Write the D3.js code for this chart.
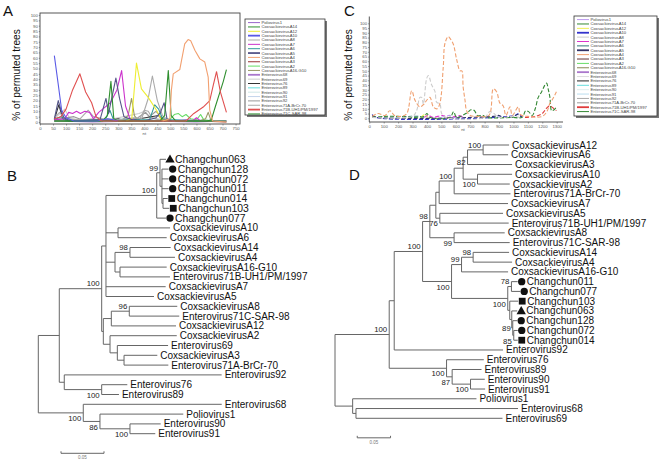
<!DOCTYPE html>
<html><head><meta charset="utf-8">
<script src="https://cdn.jsdelivr.net/npm/d3@7"></script>
<style>
body{margin:0;background:#fff;}
svg{display:block;font-family:"Liberation Sans",Arial,sans-serif;}
</style></head><body>
<svg id="c" width="661" height="462"></svg>
<script>
// ---------- legend (shared by panels A and C) ----------
const seriesNames = ["Poliovirus1","CoxsackievirusA14","CoxsackievirusA12","CoxsackievirusA10","CoxsackievirusA8","CoxsackievirusA7","CoxsackievirusA6","CoxsackievirusA5","CoxsackievirusA4","CoxsackievirusA3","CoxsackievirusA2","CoxsackievirusA16-G10","Enterovirus68","Enterovirus69","Enterovirus76","Enterovirus89","Enterovirus90","Enterovirus91","Enterovirus92","Enterovirus71A-BrCr-70","Enterovirus71B-UH1/PM/1997","Enterovirus71C-SAR-98"];
const colorsA = ["#9966cc","#2f8f2f","#eeee33","#5a5ae6","#aaaaaa","#cc33cc","#339999","#555588","#f2a070","#993333","#66dd66","#999966","#aa77cc","#cccccc","#333333","#66dddd","#cfe6e6","#c4d4ec","#999999","#aaaaaa","#e05050","#2f8f2f"];
const colorsC = ["#bb99ee","#338833","#eeee55","#3333cc","#cccccc","#dd33cc","#337777","#333366","#f2a070","#663333","#66dd66","#888855","#aa77cc","#dddddd","#222222","#66dddd","#ddeeee","#bbddee","#aaaaaa","#999999","#e03c3c","#338833"];
const thickSwatch = ["CoxsackievirusA10","CoxsackievirusA5","Enterovirus68","Enterovirus71B-UH1/PM/1997"];

// ---------- panel A: bootscan (% permuted trees vs position) ----------
const ticksAx = d3.range(0, 751, 50);
const ticksY = d3.range(0, 101, 5);
const scanA_Polio1 = [[55,1],[100,2],[150,1],[250,1],[330,2],[400,1],[500,1],[560,2],[620,1],[715,1]];
const scanA_CVA14 = [[55,1],[240,1],[258,6],[272,38],[283,3],[300,1],[460,1],[478,6],[492,48],[503,6],[520,1],[715,1]];
const scanA_CVA12 = [[330,1],[352,3],[370,55],[389,31],[415,23],[447,11],[465,2],[490,1]];
const scanA_CVA10 = [[55,62],[70,35],[83,11],[100,4],[130,1],[220,1],[260,3],[280,2],[300,1]];
const scanA_CVA8 = [[55,4],[75,9],[95,3],[150,2],[185,11],[205,5],[240,3],[300,2],[360,4],[390,3],[415,22],[431,43],[450,20],[470,6],[495,1]];
const scanA_CVA7 = [[55,2],[95,3],[110,9],[125,8],[140,10],[155,8],[172,10],[190,9],[205,3],[225,9],[245,13],[270,18],[295,30],[313,48],[328,15],[345,3],[370,1],[585,1],[600,4],[615,1]];
const scanA_CVA6 = [[55,2],[80,5],[100,1],[250,2],[268,11],[282,2],[420,2],[440,16],[455,12],[470,3],[500,2],[610,1]];
const scanA_CVA5 = [[55,3],[70,20],[82,10],[92,4],[115,1],[230,2],[253,22],[263,8],[275,22],[291,41],[305,22],[322,5],[355,2],[400,1],[445,4],[462,9],[476,18],[487,3],[505,1]];
const scanA_CVA4 = [[470,1],[498,3],[504,30],[511,45],[536,49],[555,73],[568,77],[578,76],[594,67],[613,59],[632,56],[645,42],[651,11],[662,1],[715,0]];
const scanA_CVA3 = [[55,1],[150,1],[300,1],[450,1],[600,1],[715,0]];
const scanA_CVA2 = [[470,1],[500,3],[515,7],[530,8],[545,5],[560,7],[578,3],[600,2],[616,7],[628,2],[660,1]];
const scanA_CVA16 = [[310,1],[338,6],[351,22],[362,6],[378,1],[610,1],[635,3],[645,9],[655,2]];
const scanA_EV68 = [[55,1],[200,0],[400,1],[600,0],[715,1]];
const scanA_EV69 = [[55,3],[95,12],[115,3],[170,2],[220,4],[260,2],[380,8],[400,10],[420,4],[480,2]];
const scanA_EV76 = [[55,2],[72,16],[88,3],[110,1],[280,2],[300,3],[330,1],[455,6],[470,2],[500,1]];
const scanA_EV89 = [[55,1],[100,2],[250,1],[330,3],[360,1],[520,2],[560,1]];
const scanA_EV90 = [[55,2],[120,3],[180,1],[300,2],[420,3],[520,1]];
const scanA_EV91 = [[55,1],[140,2],[240,1],[350,2],[450,1],[600,2],[715,1]];
const scanA_EV92 = [[55,2],[130,5],[160,2],[330,2],[375,4],[405,9],[420,5],[445,10],[470,3],[520,1]];
const scanA_EV71A = [[55,1],[180,2],[230,1],[380,2],[400,11],[415,10],[430,4],[470,1]];
const scanA_EV71B = [[55,3],[80,5],[100,12],[125,30],[153,45],[175,28],[198,18],[215,5],[235,1],[400,1],[560,1],[590,8],[626,14],[651,20],[665,35],[677,47],[692,28],[715,9]];
const scanA_EV71C = [[55,1],[300,1],[560,1],[640,1],[657,2],[672,14],[690,28],[703,38],[715,49]];

// ---------- panel C ----------
const ticksCx = d3.range(0, 1301, 100);
const scanC_CVA4 = [[20,2],[60,5],[108,3],[143,8],[175,3],[220,2],[260,5],[294,29],[317,19],[351,12],[380,15],[398,19],[421,22],[444,12],[470,10],[490,16],[513,54],[525,79],[548,86],[565,83],[583,78],[606,62],[629,50],[642,50],[651,33],[664,19],[675,8],[700,3],[760,2],[830,3],[860,31],[883,28],[906,16],[929,13],[948,3],[976,12],[992,3],[1034,12],[1048,4],[1100,2],[1200,2],[1235,8],[1251,15],[1275,21],[1298,28]];
const scanC_CVA8 = [[20,1],[300,2],[328,8],[351,22],[363,22],[375,15],[398,42],[410,45],[433,35],[456,28],[467,17],[490,15],[502,5],[530,1],[800,1],[835,7],[865,5],[895,1],[1000,2],[1040,1]];
const scanC_CVA14 = [[20,1],[100,2],[200,2],[300,1],[380,2],[400,5],[420,1],[560,1],[585,7],[605,1],[680,6],[705,9],[730,8],[750,3],[790,3],[810,1],[1000,1]];
const scanC_EV71C = [[1000,1],[1060,1],[1085,8],[1105,7],[1130,3],[1151,10],[1172,22],[1196,28],[1218,35],[1230,37],[1242,30],[1253,22],[1265,8],[1282,9],[1298,12]];
const scanC_EV71B = [[1080,1],[1150,2],[1200,5],[1226,10],[1250,13],[1265,12],[1298,8]];
const scanC_CVA7 = [[380,1],[410,3],[440,1],[510,3],[540,1],[600,2],[625,3],[650,1]];
const scanC_Polio1 = [[500,1],[560,3],[585,1],[620,2],[650,1]];
const scanC_CVA5 = [[20,3],[50,1],[860,2],[900,3],[930,1],[1000,2],[1030,4],[1055,1]];
const scanC_CVA10 = [[20,4],[45,1],[1010,3],[1035,5],[1060,1]];
const scanC_CVA6 = [[20,2],[50,1],[350,2],[380,1]];
const scanC_CVA12 = [[360,1],[385,4],[405,1]];

// ---------- trees (Newick, branch lengths in substitutions/site) ----------
const treeB = "(((((((Changchun063:0.007,(Changchun128:0.0078,Changchun072:0.0078,Changchun011:0.0078,(Changchun014:0.0055,Changchun103:0.0073):0.0012):0.0023)99:0.0038,Changchun077:0.0108)100:0.059,(CoxsackievirusA10:0.0605,CoxsackievirusA6:0.0566):0.014,((CoxsackievirusA14:0.0473,CoxsackievirusA4:0.0523)98:0.0174,(CoxsackievirusA16-G10:0.0543,Enterovirus71B-UH1/PM/1997:0.0581):0.0058):0.0105,CoxsackievirusA7:0.0694,CoxsackievirusA5:0.0558):0.005,(((CoxsackievirusA8:0.0558,Enterovirus71C-SAR-98:0.0581)96:0.0209,CoxsackievirusA12:0.0752):0.0093,(CoxsackievirusA2:0.0776,(Enterovirus69:0.059,(CoxsackievirusA3:0.0387,Enterovirus71A-BrCr-70:0.0515):0.0078):0.0085):0.0078):0.0019)100:0.0493,(Enterovirus92:0.183,(Enterovirus76:0.0298,Enterovirus89:0.0201)100:0.0435):0.0058):0.0244,(Enterovirus68:0.161,(Poliovirus1:0.0969,(Enterovirus90:0.0357,Enterovirus91:0.0294)100:0.0349)86:0.0194)100:0.0523);";
const treeD = "((((((((((((CoxsackievirusA12:0.039,CoxsackievirusA6:0.0375)100:0.0234,CoxsackievirusA3:0.0669)82:0.0066,(CoxsackievirusA10:0.0519,CoxsackievirusA2:0.0484)100:0.0216):0.0135,Enterovirus71A-BrCr-70:0.0846)100:0.0225,CoxsackievirusA7:0.1034):0.005,(CoxsackievirusA5:0.0949,Enterovirus71B-UH1/PM/1997:0.1034)76:0.006):0.009,(CoxsackievirusA8:0.076,Enterovirus71C-SAR-98:0.0835)99:0.0364)98:0.0109,(((CoxsackievirusA14:0.054,CoxsackievirusA4:0.0585)98:0.0174,CoxsackievirusA16-G10:0.0699)99:0.015,((Changchun011:0.0094,Changchun077:0.0132)78:0.0055,(Changchun103:0.0127,(Changchun063:0.0082,(Changchun128:0.0067,(Changchun072:0.006,Changchun014:0.006)85:0.0015)89:0.0015):0.003):0.003)100:0.0844)100:0.0435)100:0.0426,Enterovirus92:0.1634):0.0075,(Enterovirus76:0.0559,(Enterovirus89:0.0441,(Enterovirus90:0.0214,Enterovirus91:0.0219)100:0.0276)87:0.0084)100:0.0861)100:0.0814,(Poliovirus1:0.1859,(Enterovirus68:0.2433,Enterovirus69:0.22):0.005):0.0265);";
const strainMarkers = [["Changchun063","triangle"],["Changchun128","circle"],["Changchun072","circle"],["Changchun011","circle"],["Changchun014","square"],["Changchun103","square"],["Changchun077","circle"]];
const bootBelowB = ["Enterovirus76|Enterovirus89","Enterovirus68|Enterovirus91","Poliovirus1|Enterovirus91","Enterovirus90|Enterovirus91"];
const bootMidB = [];
const bootBelowD = ["CoxsackievirusA12|CoxsackievirusA3","CoxsackievirusA10|CoxsackievirusA2","CoxsackievirusA5|Enterovirus71B-UH1/PM/1997","CoxsackievirusA8|Enterovirus71C-SAR-98","CoxsackievirusA14|Changchun014","Changchun011|Changchun014","Changchun072|Changchun014","Enterovirus76|Enterovirus91","Enterovirus89|Enterovirus91","Enterovirus90|Enterovirus91"];
const bootMidD = ["Changchun128|Changchun014"];
const scaleBarLen = 0.05;

// ================= drawing =================
const svg = d3.select("#c");

function panelLabel(t, x, y){
  svg.append("text").attr("x",x).attr("y",y).attr("font-size",15).attr("fill","#111").text(t);
}
function yTitle(cx, cy){
  svg.append("text").attr("transform",`translate(${cx},${cy}) rotate(-90)`).attr("text-anchor","middle")
    .attr("font-size",10.2).attr("fill","#111").text("% of permuted trees");
}
function legend(x0, y0, w, h, rowStep, colors){
  const g = svg.append("g");
  g.append("rect").attr("x",x0+2).attr("y",y0+2).attr("width",w).attr("height",h).attr("fill","#777");
  g.append("rect").attr("x",x0).attr("y",y0).attr("width",w).attr("height",h).attr("fill","#fff").attr("stroke","#333").attr("stroke-width",0.8);
  seriesNames.forEach((n,i)=>{
    const yy = y0 + 3.6 + i*rowStep;
    g.append("line").attr("x1",x0+3).attr("x2",x0+15).attr("y1",yy).attr("y2",yy)
      .attr("stroke",colors[i]).attr("stroke-width", thickSwatch.includes(n)?1.8:1);
    g.append("text").attr("x",x0+16.5).attr("y",yy).attr("dy","0.35em").attr("font-size",4.2).attr("fill","#444").text(n);
  });
}
function styleAxis(g){
  g.selectAll("text").attr("font-size",4.3).attr("fill","#555");
  g.selectAll("line").attr("stroke","#555").attr("stroke-width",0.6);
  g.select(".domain").remove();
}

// ---- Panel A ----
panelLabel("A", 3, 16);
yTitle(20, 75);
const xA = d3.scaleLinear().domain([0, 767]).range([40, 240]);
const yA = d3.scaleLinear().domain([0, 100]).range([122, 15]);
svg.append("rect").attr("x",40).attr("y",13).attr("width",200).attr("height",111).attr("fill","none").attr("stroke","#444").attr("stroke-width",0.9);
styleAxis(svg.append("g").attr("transform","translate(0,124)").call(d3.axisBottom(xA).tickValues(ticksAx).tickFormat(d3.format("d")).tickSize(1.5).tickPadding(1.5)));
styleAxis(svg.append("g").attr("transform","translate(40,0)").call(d3.axisLeft(yA).tickValues(ticksY).tickFormat(d3.format("d")).tickSize(1.2).tickPadding(1)));
svg.append("text").attr("x",xA(400)).attr("y",135).attr("text-anchor","middle").attr("font-size",4.3).attr("fill","#555").text("nt");
const seriesA = [
  ["Enterovirus68",scanA_EV68],["CoxsackievirusA3",scanA_CVA3],["Enterovirus91",scanA_EV91],["Enterovirus90",scanA_EV90],
  ["Enterovirus89",scanA_EV89],["Poliovirus1",scanA_Polio1],["Enterovirus69",scanA_EV69],["Enterovirus92",scanA_EV92],
  ["Enterovirus71A-BrCr-70",scanA_EV71A],["Enterovirus76",scanA_EV76],["CoxsackievirusA2",scanA_CVA2],["CoxsackievirusA16-G10",scanA_CVA16],
  ["CoxsackievirusA6",scanA_CVA6],["CoxsackievirusA8",scanA_CVA8],["CoxsackievirusA7",scanA_CVA7],["CoxsackievirusA12",scanA_CVA12],
  ["CoxsackievirusA5",scanA_CVA5],["CoxsackievirusA14",scanA_CVA14],["Enterovirus71C-SAR-98",scanA_EV71C],["CoxsackievirusA10",scanA_CVA10],
  ["Enterovirus71B-UH1/PM/1997",scanA_EV71B],["CoxsackievirusA4",scanA_CVA4]
];
const lineA = d3.line().x(d=>xA(d[0])).y(d=>yA(d[1]));
seriesA.forEach(([n,pts])=>{
  svg.append("path").attr("d",lineA(pts)).attr("fill","none")
    .attr("stroke",colorsA[seriesNames.indexOf(n)]).attr("stroke-width",1.1).attr("stroke-linejoin","round");
});
legend(245, 19, 80, 96, 4.35, colorsA);

// ---- Panel C ----
panelLabel("C", 344, 16);
yTitle(352, 75);
const xC = d3.scaleLinear().domain([0, 1300]).range([369.3, 556.7]);
const yC = d3.scaleLinear().domain([0, 100]).range([118.3, 23.3]);
svg.append("line").attr("x1",369.3).attr("x2",369.3).attr("y1",16.5).attr("y2",122).attr("stroke","#444").attr("stroke-width",0.9);
svg.append("line").attr("x1",369.3).attr("x2",563).attr("y1",122).attr("y2",122).attr("stroke","#444").attr("stroke-width",0.9);
styleAxis(svg.append("g").attr("transform","translate(0,122)").call(d3.axisBottom(xC).tickValues(ticksCx).tickFormat(d3.format("d")).tickSize(1.5).tickPadding(1.5)));
styleAxis(svg.append("g").attr("transform","translate(369.3,0)").call(d3.axisLeft(yC).tickValues(ticksY).tickFormat(d3.format("d")).tickSize(1.2).tickPadding(1)));
svg.append("text").attr("x",xC(650)).attr("y",131).attr("text-anchor","middle").attr("font-size",4.3).attr("fill","#555").text("nt");
const seriesC = [
  ["CoxsackievirusA6",scanC_CVA6],["CoxsackievirusA12",scanC_CVA12],["CoxsackievirusA10",scanC_CVA10],["CoxsackievirusA5",scanC_CVA5],
  ["Poliovirus1",scanC_Polio1],["CoxsackievirusA7",scanC_CVA7],["CoxsackievirusA14",scanC_CVA14],["CoxsackievirusA8",scanC_CVA8],
  ["Enterovirus71B-UH1/PM/1997",scanC_EV71B],["Enterovirus71C-SAR-98",scanC_EV71C],["CoxsackievirusA4",scanC_CVA4]
];
const lineC = d3.line().x(d=>xC(d[0])).y(d=>yC(d[1])).curve(d3.curveCatmullRom.alpha(0.5));
seriesC.forEach(([n,pts])=>{
  svg.append("path").attr("d",lineC(pts)).attr("fill","none")
    .attr("stroke", n==="CoxsackievirusA4" ? "#f0a070" : colorsC[seriesNames.indexOf(n)])
    .attr("stroke-width",1.1).attr("stroke-dasharray","4,2");
});
legend(574, 16, 83, 100, 4.38, colorsC);

// ---- trees ----
function parseNewick(str){
  const s = str.replace(/\s+/g,"");
  let i = 0;
  function node(){
    const n = {name:"", length:0, children:null};
    if (s[i]==="("){
      n.children=[]; i++;
      n.children.push(node());
      while(s[i]===","){ i++; n.children.push(node()); }
      i++;
    }
    let nm=""; while(i<s.length && !"(),:;".includes(s[i])) nm+=s[i++];
    n.name=nm;
    if (s[i]===":"){ i++; let num=""; while(i<s.length && !"(),;".includes(s[i])) num+=s[i++]; n.length=+num; }
    return n;
  }
  return node();
}
const markerMap = new Map(strainMarkers);
const symType = {circle:d3.symbolCircle, square:d3.symbolSquare, triangle:d3.symbolTriangle};
const symSize = {circle:42, square:46, triangle:38};

function drawTree(newick, xS, yS, belowList, midList, ccFont, barRow, barFrom){
  const root = d3.hierarchy(parseNewick(newick), d=>d.children);
  root.each(n=>{ n.dist = (n.parent? n.parent.dist : 0) + (n.parent? n.data.length : 0); });
  root.leaves().forEach((l,k)=> l.row = k);
  root.eachAfter(n=>{ if(n.children) n.row = (n.children[0].row + n.children[n.children.length-1].row)/2; });
  const g = svg.append("g").attr("stroke","#666").attr("stroke-width",1);
  root.descendants().forEach(n=>{
    if (n.parent){
      g.append("line").attr("x1",xS(n.parent.dist)).attr("x2",xS(n.dist)).attr("y1",yS(n.row)).attr("y2",yS(n.row));
    }
    if (n.children){
      g.append("line").attr("x1",xS(n.dist)).attr("x2",xS(n.dist))
        .attr("y1",yS(n.children[0].row)).attr("y2",yS(n.children[n.children.length-1].row));
    }
  });
  const t = svg.append("g").attr("fill","#111");
  root.leaves().forEach(l=>{
    const m = markerMap.get(l.data.name);
    const tx = xS(l.dist), ty = yS(l.row);
    if (m){
      t.append("path").attr("d", d3.symbol().type(symType[m]).size(symSize[m])()).attr("transform",`translate(${tx+4},${ty + (m==="triangle"?0.6:0)})`);
      t.append("text").attr("x",tx+9).attr("y",ty).attr("dy","0.35em").attr("font-size",ccFont).text(l.data.name);
    } else {
      t.append("text").attr("x",tx+3).attr("y",ty).attr("dy","0.35em").attr("font-size",10).text(l.data.name);
    }
  });
  root.descendants().forEach(n=>{
    if (n.children && n.data.name && n.parent){
      const lv = n.leaves();
      const key = lv[0].data.name + "|" + lv[lv.length-1].data.name;
      const off = belowList.includes(key) ? 8.2 : (midList.includes(key) ? 3 : -2.2);
      t.append("text").attr("x", xS(n.dist)-2).attr("y", yS(n.row) + off)
        .attr("text-anchor","end").attr("font-size",7.8).attr("fill","#222").text(n.data.name);
    }
  });
  const by = yS(barRow);
  const sb = svg.append("g").attr("stroke","#666").attr("stroke-width",1);
  sb.append("line").attr("x1",xS(barFrom)).attr("x2",xS(barFrom+scaleBarLen)).attr("y1",by).attr("y2",by);
  sb.append("line").attr("x1",xS(barFrom)).attr("x2",xS(barFrom)).attr("y1",by-2).attr("y2",by);
  sb.append("line").attr("x1",xS(barFrom+scaleBarLen)).attr("x2",xS(barFrom+scaleBarLen)).attr("y1",by-2).attr("y2",by);
  svg.append("text").attr("x",xS(barFrom+scaleBarLen/2)).attr("y",by+6).attr("text-anchor","middle").attr("font-size",4.5).attr("fill","#777").text(String(scaleBarLen));
}

// Panel B
panelLabel("B", 7, 181);
const xB = d3.scaleLinear().domain([0, 0.05]).range([38.3, 81.3]);
const yB = d3.scaleLinear().domain([0, 28]).range([159.3, 433.7]);
drawTree(treeB, xB, yB, bootBelowB, bootMidB, 10.4, 30, 0.0264);

// Panel D
panelLabel("D", 349, 180);
const xD = d3.scaleLinear().domain([0, 0.05]).range([335, 368.3]);
const yD = d3.scaleLinear().domain([0, 28]).range([145, 418.3]);
drawTree(treeD, xD, yD, bootBelowD, bootMidD, 10, 30, 0.0334);
</script>
</body></html>
